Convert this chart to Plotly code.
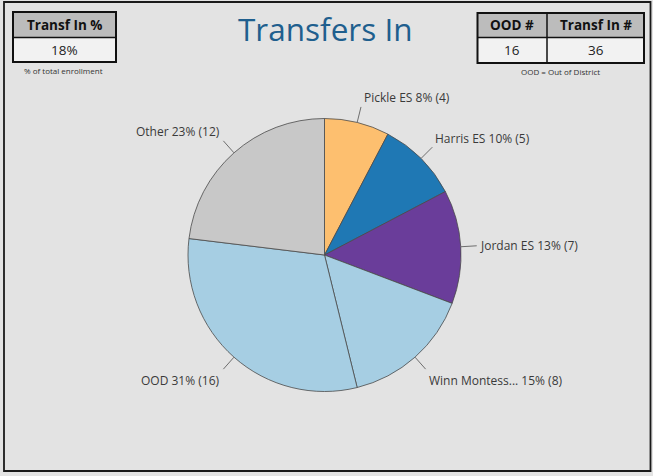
import math

import plotly.graph_objects as go

# --- data ---
schools = ['Pickle ES', 'Harris ES', 'Jordan ES', 'Winn Montess...', 'OOD', 'Other']
counts = [4, 5, 7, 8, 16, 12]
colors = ['#fdbf6f', '#1f78b4', '#6a3d9a', '#a6cee3', '#a6cee3', '#c8c8c8']

pct_header = ['Transf In %']
pct_values = ['18%']
pct_note = '% of total enrollment'

count_headers = ['OOD #', 'Transf In #']
count_values = [16, 36]
count_note = 'OOD = Out of District'

W, H = 653, 476
FONT = 'Open Sans'


def px(x):
    return x / W


def py(y):
    return 1 - y / H


def text_at(x, y, text, size, color='#222222', xa='center', ya='middle'):
    return dict(x=px(x), y=py(y), xref='paper', yref='paper', showarrow=False,
                xanchor=xa, yanchor=ya, text=text, font=dict(family=FONT, size=size, color=color))


# pie geometry in pixels
cx, cy, r = 324.5, 255.0, 136.5

fig = go.Figure()
fig.add_trace(go.Pie(
    labels=schools, values=counts, sort=False, direction='clockwise', rotation=0,
    marker=dict(colors=colors, line=dict(color='#4a4a4a', width=0.8)),
    textinfo='none', hoverinfo='label+value+percent', showlegend=False,
    domain=dict(x=[px(cx - r), px(cx + r)], y=[py(cy + r), py(cy - r)]),
))

shapes = []
annos = []

# outer frame
shapes.append(dict(type='rect', xref='paper', yref='paper', x0=px(4), x1=px(650.5), y0=py(471), y1=py(2),
                   line=dict(color='#1a1a1a', width=1.8), fillcolor='rgba(0,0,0,0)', layer='below'))

# leader lines + labels
total = sum(counts)
cum = 0
for name, v in zip(schools, counts):
    mid = (cum + v / 2) / total * 2 * math.pi
    cum += v
    s, c = math.sin(mid), math.cos(mid)
    x0, y0 = cx + r * s, cy - r * c
    x1, y1 = cx + (r + 16) * s, cy - (r + 16) * c
    shapes.append(dict(type='line', xref='paper', yref='paper', x0=px(x0), y0=py(y0), x1=px(x1), y1=py(y1),
                       line=dict(color='#6e6e6e', width=1)))
    pct = round(v / total * 100)
    if abs(c) < 0.3:
        dy = 0
    elif c > 0:
        dy = -9
    else:
        dy = 11
    xa = 'left' if s >= 0 else 'right'
    tx = x1 + 1 if s >= 0 else x1 - 1
    annos.append(text_at(tx, y1 + dy, f'{name} {pct}% ({v})', 12, '#3a3a3a', xa=xa))

# left KPI table
shapes.append(dict(type='rect', xref='paper', yref='paper', x0=px(13), x1=px(116), y0=py(37.5), y1=py(12),
                   fillcolor='#bcbcbc', line=dict(width=0)))
shapes.append(dict(type='rect', xref='paper', yref='paper', x0=px(13), x1=px(116), y0=py(62), y1=py(37.5),
                   fillcolor='#f2f2f2', line=dict(width=0)))
shapes.append(dict(type='line', xref='paper', yref='paper', x0=px(13), x1=px(116), y0=py(37.5), y1=py(37.5),
                   line=dict(color='#111111', width=1.5)))
shapes.append(dict(type='rect', xref='paper', yref='paper', x0=px(13), x1=px(116), y0=py(62), y1=py(12),
                   line=dict(color='#111111', width=2)))
annos.append(text_at(64.5, 24.5, f'<b>{pct_header[0]}</b>', 13.5, '#111111'))
annos.append(text_at(64.5, 50, pct_values[0], 13.5))
annos.append(text_at(63, 70.5, pct_note, 8, '#333333'))

# right KPI table
tx0, tdiv, tx1 = 477.5, 547, 644
shapes.append(dict(type='rect', xref='paper', yref='paper', x0=px(tx0), x1=px(tx1), y0=py(37.5), y1=py(13),
                   fillcolor='#bcbcbc', line=dict(width=0)))
shapes.append(dict(type='rect', xref='paper', yref='paper', x0=px(tx0), x1=px(tx1), y0=py(63), y1=py(37.5),
                   fillcolor='#f2f2f2', line=dict(width=0)))
shapes.append(dict(type='line', xref='paper', yref='paper', x0=px(tx0), x1=px(tx1), y0=py(37.5), y1=py(37.5),
                   line=dict(color='#111111', width=1.5)))
shapes.append(dict(type='line', xref='paper', yref='paper', x0=px(tdiv), x1=px(tdiv), y0=py(63), y1=py(13),
                   line=dict(color='#111111', width=1.5)))
shapes.append(dict(type='rect', xref='paper', yref='paper', x0=px(tx0), x1=px(tx1), y0=py(63), y1=py(13),
                   line=dict(color='#111111', width=2)))
for (a, b), head, val in zip([(tx0, tdiv), (tdiv, tx1)], count_headers, count_values):
    annos.append(text_at((a + b) / 2, 25, f'<b>{head}</b>', 13.5, '#111111'))
    annos.append(text_at((a + b) / 2, 50.5, str(val), 13.5))
annos.append(text_at(560, 71, count_note, 8, '#333333'))

# title
annos.append(text_at(325, 28.5, 'Transfers In', 31.5, '#1f5f8e'))

fig.update_layout(
    width=W, height=H, margin=dict(l=0, r=0, t=0, b=0),
    paper_bgcolor='#e3e3e3', plot_bgcolor='#e3e3e3',
    shapes=shapes, annotations=annos,
)
fig.write_html('out.html', config={'displayModeBar': False},
               post_script="document.body.style.margin='0';")
